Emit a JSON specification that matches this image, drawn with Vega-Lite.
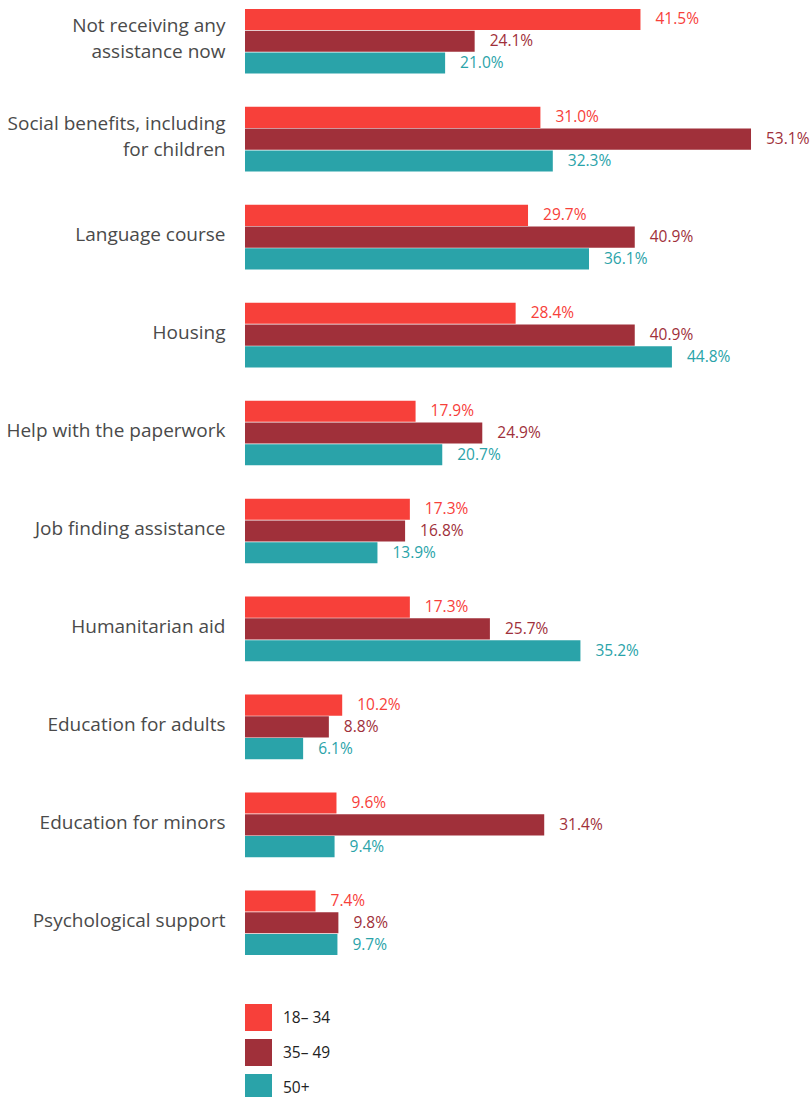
{
  "$schema": "https://vega.github.io/schema/vega-lite/v6.json",
  "autosize": "none",
  "width": 567,
  "height": 956,
  "padding": {"left": 245, "top": 4, "right": 0, "bottom": 137},
  "background": "white",
  "config": {"font": "Open Sans", "view": {"stroke": null}},
  "data": {"values": [
    {"cat": "Not receiving any assistance now", "age": "18– 34", "v": 41.5},
    {"cat": "Not receiving any assistance now", "age": "35– 49", "v": 24.1},
    {"cat": "Not receiving any assistance now", "age": "50+", "v": 21.0},
    {"cat": "Social benefits, including for children", "age": "18– 34", "v": 31.0},
    {"cat": "Social benefits, including for children", "age": "35– 49", "v": 53.1},
    {"cat": "Social benefits, including for children", "age": "50+", "v": 32.3},
    {"cat": "Language course", "age": "18– 34", "v": 29.7},
    {"cat": "Language course", "age": "35– 49", "v": 40.9},
    {"cat": "Language course", "age": "50+", "v": 36.1},
    {"cat": "Housing", "age": "18– 34", "v": 28.4},
    {"cat": "Housing", "age": "35– 49", "v": 40.9},
    {"cat": "Housing", "age": "50+", "v": 44.8},
    {"cat": "Help with the paperwork", "age": "18– 34", "v": 17.9},
    {"cat": "Help with the paperwork", "age": "35– 49", "v": 24.9},
    {"cat": "Help with the paperwork", "age": "50+", "v": 20.7},
    {"cat": "Job finding assistance", "age": "18– 34", "v": 17.3},
    {"cat": "Job finding assistance", "age": "35– 49", "v": 16.8},
    {"cat": "Job finding assistance", "age": "50+", "v": 13.9},
    {"cat": "Humanitarian aid", "age": "18– 34", "v": 17.3},
    {"cat": "Humanitarian aid", "age": "35– 49", "v": 25.7},
    {"cat": "Humanitarian aid", "age": "50+", "v": 35.2},
    {"cat": "Education for adults", "age": "18– 34", "v": 10.2},
    {"cat": "Education for adults", "age": "35– 49", "v": 8.8},
    {"cat": "Education for adults", "age": "50+", "v": 6.1},
    {"cat": "Education for minors", "age": "18– 34", "v": 9.6},
    {"cat": "Education for minors", "age": "35– 49", "v": 31.4},
    {"cat": "Education for minors", "age": "50+", "v": 9.4},
    {"cat": "Psychological support", "age": "18– 34", "v": 7.4},
    {"cat": "Psychological support", "age": "35– 49", "v": 9.8},
    {"cat": "Psychological support", "age": "50+", "v": 9.7}
  ]},
  "transform": [{"calculate": "format(datum.v, '.1f') + '%'", "as": "lbl"}],
  "encoding": {
    "y": {
      "field": "cat", "type": "nominal", "sort": null, "title": null,
      "scale": {"paddingInner": 0.34, "paddingOuter": 0.05},
      "axis": {
        "domain": false, "ticks": false, "labelPadding": 20,
        "labelFontSize": 19, "labelColor": "#4a4a4a", "labelLineHeight": 26,
        "labelLimit": 300,
        "labelOffset": {"condition": {"test": "datum.value == 'Not receiving any assistance now' || datum.value == 'Social benefits, including for children'", "value": -15}, "value": -2},
        "labelExpr": "datum.value == 'Not receiving any assistance now' ? ['Not receiving any', 'assistance now'] : datum.value == 'Social benefits, including for children' ? ['Social benefits, including', 'for children'] : datum.value"
      }
    },
    "yOffset": {"field": "age", "type": "nominal", "scale": {"paddingInner": 0.03, "paddingOuter": 0}},
    "x": {"field": "v", "type": "quantitative", "scale": {"domain": [0, 59.5], "nice": false}, "axis": null},
    "color": {
      "field": "age", "type": "nominal", "title": null,
      "scale": {"domain": ["18– 34", "35– 49", "50+"], "range": ["#f7403a", "#a0303a", "#2aa3a9"]},
      "legend": {
        "orient": "none", "legendX": 0, "legendY": 1000, "direction": "vertical",
        "symbolType": "square", "symbolSize": 729, "symbolStrokeWidth": 0,
        "rowPadding": 8, "labelOffset": 11, "labelFontSize": 15.5, "labelColor": "#222222",
        "symbolOpacity": 1
      }
    }
  },
  "layer": [
    {"mark": {"type": "bar", "opacity": 1}},
    {"mark": {"type": "text", "align": "left", "baseline": "middle", "dx": 15, "fontSize": 15.5}, "encoding": {"text": {"field": "lbl"}}}
  ]
}
